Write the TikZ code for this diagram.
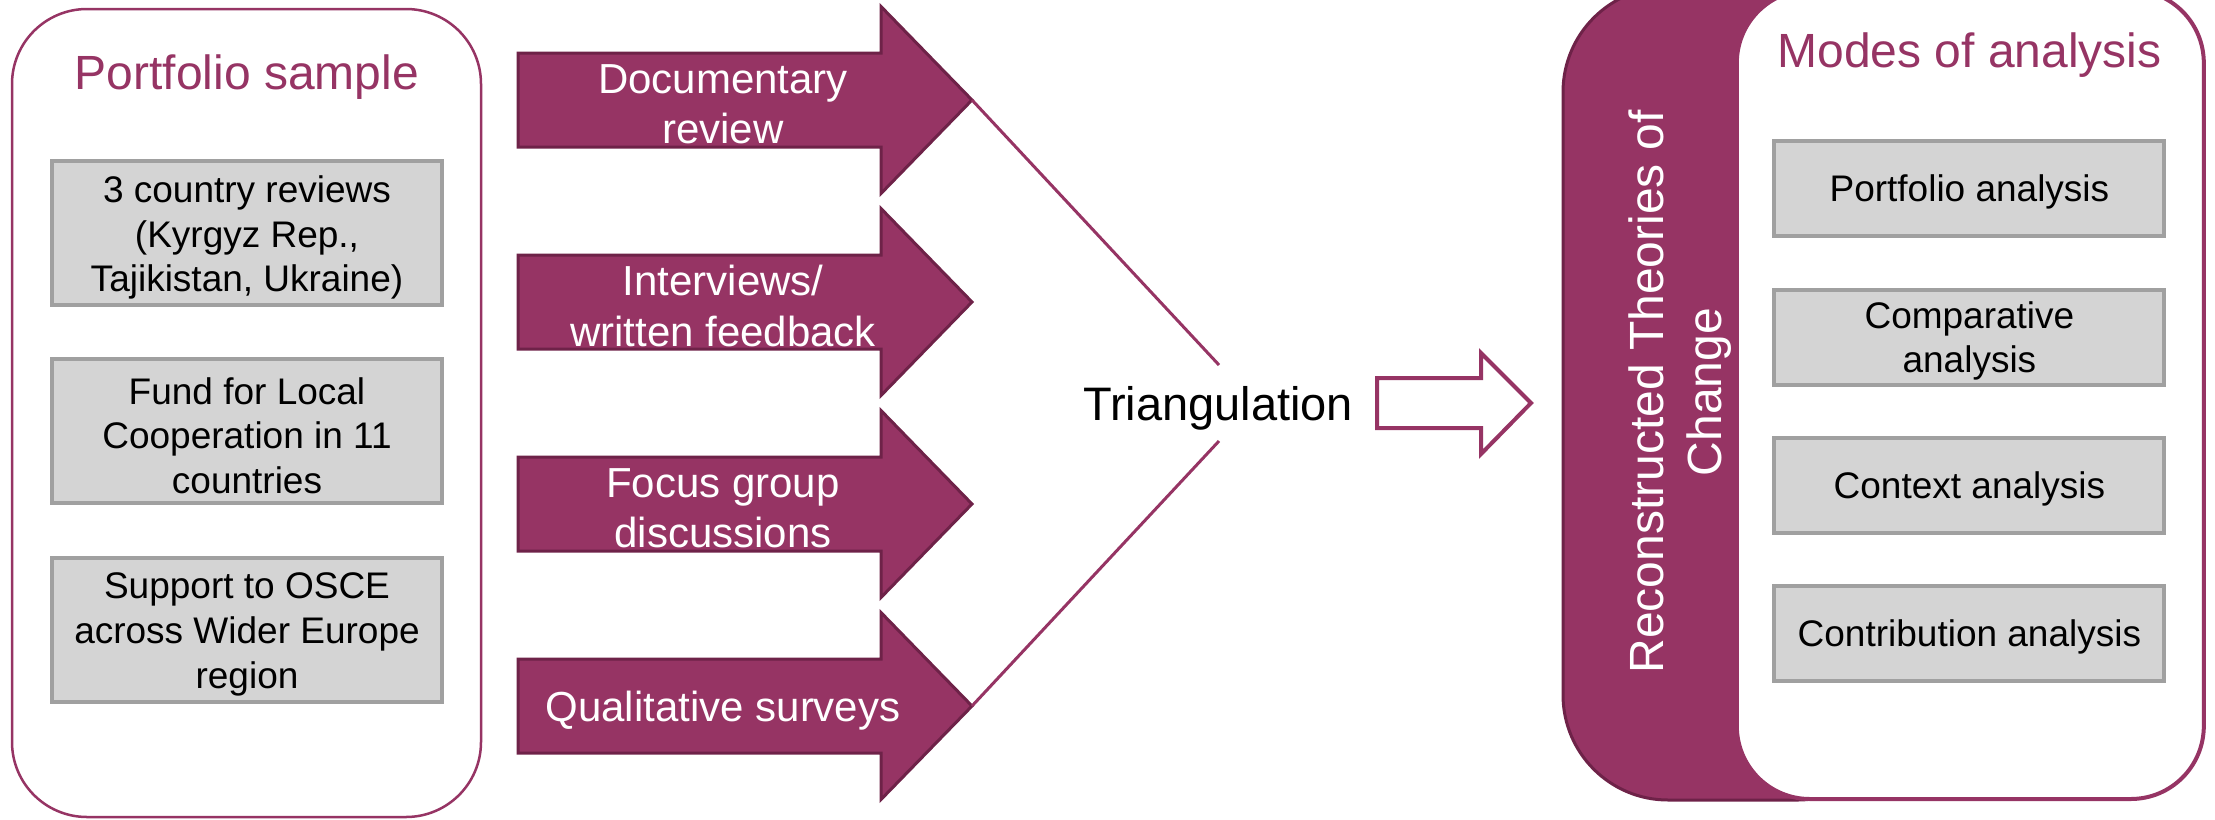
\documentclass[tikz,border=0pt]{standalone}
\usepackage{fontspec}
\setmainfont{Liberation Sans}
\definecolor{pur}{HTML}{963464}
\definecolor{darkpur}{HTML}{6E2248}
\definecolor{gfill}{HTML}{D4D4D4}
\definecolor{gborder}{HTML}{A0A0A0}
\begin{document}
\begin{tikzpicture}[x=1pt,y=-1pt,
  container/.style={draw=pur, line width=2.5pt, fill=white, inner sep=0pt},
  title/.style={text=pur, font=\fontsize{48}{57.6}\selectfont, anchor=base, inner sep=0pt},
  gbox/.style={draw=gborder, fill=gfill, line width=4pt, inner sep=0pt},
  lbox/.style={gbox, minimum width=390pt, minimum height=144pt},
  rbox/.style={gbox, minimum width=390pt, minimum height=95pt},
  btext/.style={align=center, font=\fontsize{37}{44.6}\selectfont, text=black, inner sep=0pt},
  bigarr/.style={fill=pur, draw=darkpur, line width=3pt, line join=miter},
  atext/.style={text=white, align=center, font=\fontsize{42}{50.2}\selectfont, inner sep=0pt},
  tline/.style={draw=pur, line width=3pt},
  hollow/.style={draw=pur, fill=white, line width=4pt, line join=miter}
]
\useasboundingbox (0,0) rectangle (2215,819);
\clip (0,0) rectangle (2215,819);

% ---------- left container ----------
\node[container, rounded corners=75pt, minimum width=469pt, minimum height=808pt] (left) at (246.5,413) {};
\node[title] (ltitle) at (247,89) {Portfolio sample};
\node[lbox] (l1) at (247,233) {};
\node[lbox] (l2) at (247,431) {};
\node[lbox] (l3) at (247,630) {};
\node[btext] (l1t) at ([yshift=-4.5pt]l1.center) {3 country reviews\\(Kyrgyz Rep.,\\Tajikistan, Ukraine)};
\node[btext] (l2t) at ([yshift=-4.5pt]l2.center) {Fund for Local\\Cooperation in 11\\countries};
\node[btext] (l3t) at ([yshift=-4.5pt]l3.center) {Support to OSCE\\across Wider Europe\\region};

% ---------- big arrows ----------
\foreach \yc/\nm in {100/1,302/2,504/3,706/4}{
  \draw[bigarr] (518,\yc-47) -- (881,\yc-47) -- (881,\yc-93.5) -- (972,\yc)
     -- (881,\yc+93.5) -- (881,\yc+47) -- (518,\yc+47) -- cycle;
  \coordinate (tip\nm) at (972,\yc);
}
\node[atext] (a1) at (723,104) {Documentary\\review};
\node[atext] (a2) at (723,306) {Interviews/\\written feedback};
\node[atext] (a3) at (723,508) {Focus group\\discussions};
\node[atext] (a4) at (723,711) {Qualitative surveys};

% ---------- triangulation ----------
\node[text=black, font=\fontsize{47}{56}\selectfont, anchor=base, inner sep=0pt] (tri) at (1218,420) {Triangulation};
\coordinate (e1) at (1219,365);
\coordinate (e2) at (1219,441);
\draw[tline] (tip1) -- (e1);
\draw[tline] (tip4) -- (e2);

\draw[hollow] (1377,378) -- (1481,378) -- (1481,353) -- (1531,403) -- (1481,454)
   -- (1481,428) -- (1377,428) -- cycle;

% ---------- right side ----------
\node[fill=pur, draw=darkpur, line width=3pt, rounded corners=105pt, inner sep=0pt,
  minimum width=340pt, minimum height=813pt] (tocbg) at (1733,393.5) {};
\node[container, line width=4pt, rounded corners=73pt, minimum width=467pt, minimum height=809pt] (right) at (1970.3,394.5) {};
\node[rotate=90, text=white, align=center, font=\fontsize{48}{57.6}\selectfont, inner sep=0pt] (toc) at (1680,392) {Reconstructed Theories of\\Change};
\node[title] (rtitle) at (1969.5,67) {Modes of analysis};
\node[rbox] (r1) at (1969.4,188) {};
\node[rbox] (r2) at (1969.4,337) {};
\node[rbox] (r3) at (1969.4,485) {};
\node[rbox] (r4) at (1969.4,633.5) {};
\node[btext] (r1t) at ([yshift=-3.5pt]r1.center) {Portfolio analysis};
\node[btext] (r2t) at ([yshift=-4pt]r2.center) {Comparative\\analysis};
\node[btext] (r3t) at ([yshift=-3.5pt]r3.center) {Context analysis};
\node[btext] (r4t) at ([yshift=-3.5pt]r4.center) {Contribution analysis};
\end{tikzpicture}
\end{document}
